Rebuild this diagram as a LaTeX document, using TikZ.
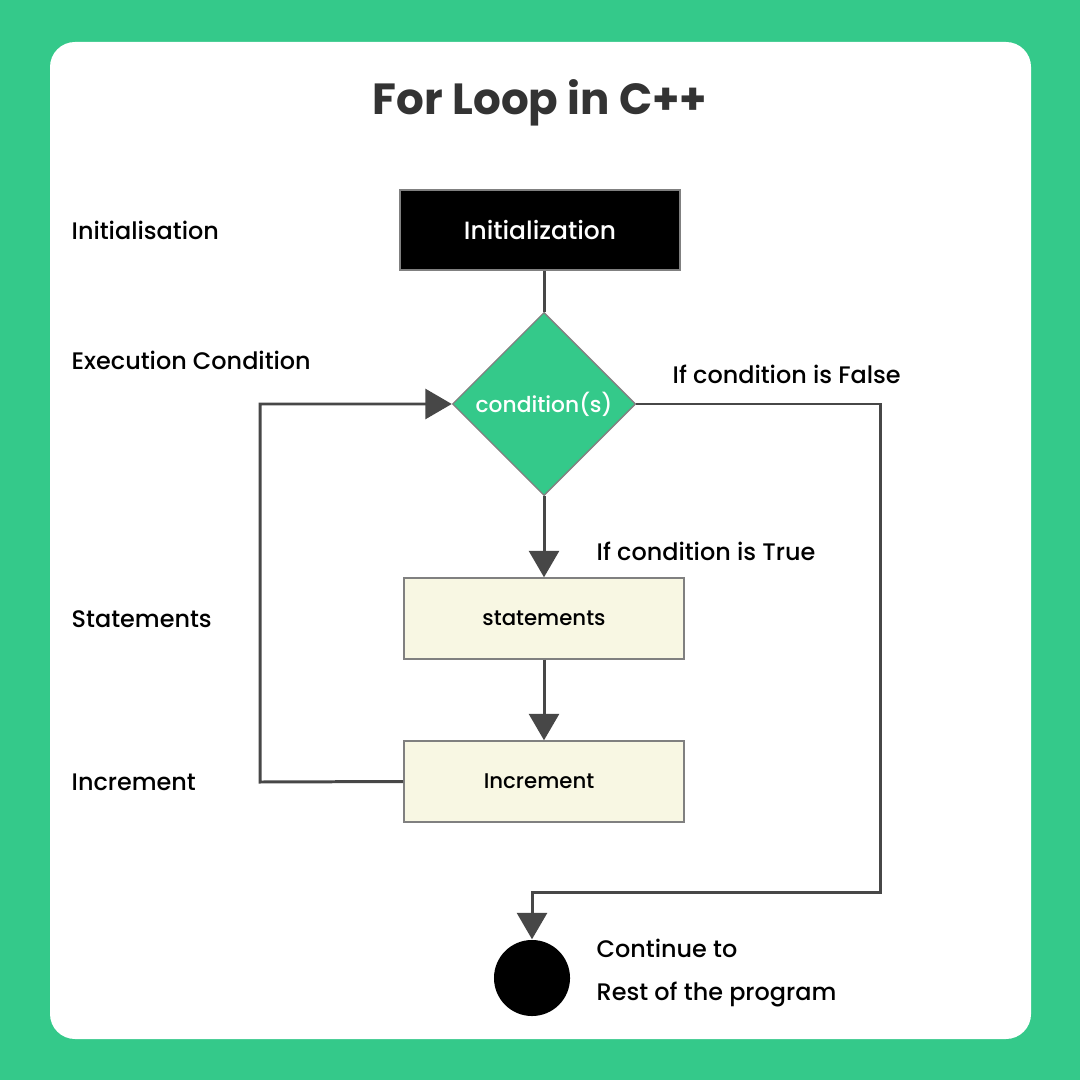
\documentclass[tikz,border=0pt]{standalone}
\usepackage{fontspec}
\setmainfont{Poppins}[UprightFont=* Medium,BoldFont=* Bold]
\usetikzlibrary{arrows.meta,shapes.geometric,positioning}
\definecolor{loopgreen}{HTML}{34C98A}
\definecolor{linegray}{HTML}{474747}
\definecolor{cream}{HTML}{F8F7E3}
\definecolor{titlegray}{HTML}{333333}

\begin{document}
\begin{tikzpicture}[x=0.01cm,y=-0.01cm,
    flow/.style={draw=linegray,line width=0.85pt},
    arr/.style={flow,-{Triangle[width=8.5pt,length=7.5pt]}},
    initbox/.style={draw=gray,fill=black,text=white,minimum width=2.8cm,minimum height=0.8cm,font=\fontsize{7.1}{8}\selectfont},
    stepbox/.style={draw=gray,fill=cream,minimum width=2.8cm,minimum height=0.81cm,font=\fontsize{6.05}{7}\selectfont},
    cond/.style={diamond,aspect=1,draw=gray,fill=loopgreen,text=white,inner sep=0pt,minimum size=1.83cm,font=\fontsize{6.2}{7}\selectfont},
    endpt/.style={circle,fill=black,inner sep=0pt,minimum size=0.76cm},
    sidelabel/.style={anchor=west,inner sep=0pt,font=\fontsize{6.8}{8}\selectfont}]
  % frame
  \useasboundingbox (0,0) rectangle (1080,1080);
  \fill[loopgreen] (0,0) rectangle (1080,1080);
  \fill[white,rounded corners=0.25cm] (50,42) rectangle (1031,1039);
  \node[font=\fontsize{12.4}{14}\selectfont\bfseries,text=titlegray] (title) at (540,103) {For Loop in C++};

  % flow boxes
  \node[initbox] (init) at (540,230) {Initialization};
  \node[cond] (cond) at (544,404) {condition(s)};
  \node[stepbox] (stmts) at (544,618.5) {\raisebox{-0.3ex}{statements}};
  \node[stepbox] (incr) at (544,781.5) {\hspace*{-0.1cm}Increment};
  \node[endpt] (end) at (532,978) {};
  \coordinate (backturn) at (260,782);
  \coordinate (falseturn) at (880,892);

  % connectors
  \draw[flow] (cond.north) -- (cond.north |- init.south);
  \draw[arr] (cond.south) -- (stmts.north);
  \draw[arr] (stmts.south) -- (incr.north);
  \draw[arr] (incr.west) -- (backturn) |- (cond.west);
  \draw[arr] (cond.east) -| (falseturn) -| (end.north);

  % labels
  \node[sidelabel] (lbinit) at (71,230) {Initialisation};
  \node[sidelabel] (lbcond) at (71,360) {Execution Condition};
  \node[sidelabel] (lbstmt) at (71,619) {Statements};
  \node[sidelabel] (lbincr) at (71,782) {Increment};
  \node[sidelabel] (lbfalse) at (672,374) {If condition is False};
  \node[sidelabel] (lbtrue) at (596,551) {If condition is True};
  \node[sidelabel] (lbcont) at (596,948) {Continue to};
  \node[sidelabel] (lbrest) at (596,995) {Rest of the program};
\end{tikzpicture}
\end{document}
